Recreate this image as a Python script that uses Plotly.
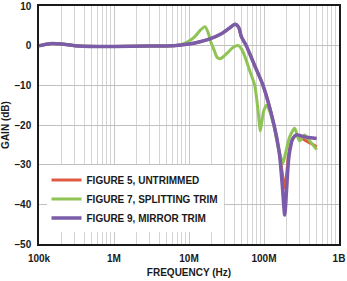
import plotly.graph_objects as go

# ---- data ----
freq_untrimmed = [1e5, 1.4e5, 2e5, 3e5, 6e5, 1e6, 3e6, 6e6, 8e6, 10e6, 14e6, 19e6, 27e6, 35e6,
                  41e6, 46e6, 50e6, 58e6, 75e6, 97e6, 136e6, 160e6, 175e6, 189e6, 199e6, 215e6,
                  241e6, 272e6, 300e6, 348e6, 420e6, 504e6]
gain_untrimmed = [0, 0.5, 0.4, 0, -0.2, -0.2, -0.1, 0, 0.2, 0.4, 1.0, 1.7, 3.0, 4.5,
                  5.4, 4.6, 2.2, 0, -5, -10, -20, -27, -32, -36, -33, -27,
                  -23.5, -22.5, -23, -23.8, -24.6, -25.5]

freq_splitting = [1e5, 1.4e5, 2e5, 3e5, 6e5, 1e6, 3e6, 6e6, 7.5e6, 9.2e6, 12e6, 14e6, 16.3e6,
                  18e6, 19.5e6, 21.5e6, 23.6e6, 26e6, 29e6, 33e6, 39e6, 46e6, 50e6, 55e6,
                  64.5e6, 75.2e6, 80e6, 85e6, 89e6, 93e6, 99e6, 108e6, 119e6, 135e6, 152e6,
                  167e6, 179e6, 194e6, 220e6, 256e6, 281e6, 299e6, 348e6, 406e6, 504e6]
gain_splitting = [0, 0.5, 0.4, 0, -0.2, -0.2, -0.1, 0, 0.2, 0.8, 2.3, 3.8, 4.8,
                  3.3, 1.0, -1.0, -2.9, -3.3, -2.7, -1.7, -0.4, 0, -0.8, -2.5,
                  -6.3, -10, -13.5, -18, -21.5, -19.5, -16.5, -15, -16.5, -20, -25,
                  -28, -29.6, -27, -23, -20.8, -23, -24, -22.5, -24, -26.2]

freq_mirror = [1e5, 1.4e5, 2e5, 3e5, 6e5, 1e6, 3e6, 6e6, 8e6, 10e6, 14e6, 19e6, 27e6, 35e6,
               41e6, 46e6, 50e6, 58e6, 75e6, 97e6, 136e6, 160e6, 175e6, 189e6, 199e6, 215e6,
               241e6, 272e6, 348e6, 420e6, 504e6]
gain_mirror = [0, 0.5, 0.4, 0, -0.2, -0.2, -0.1, 0, 0.2, 0.4, 1.0, 1.7, 3.0, 4.5,
               5.4, 4.6, 2.2, 0, -5, -10, -20, -27, -35, -42.7, -37, -28,
               -23.5, -22.5, -23, -23.2, -23.4]

series_names = ["FIGURE 5, UNTRIMMED", "FIGURE 7, SPLITTING TRIM", "FIGURE 9, MIRROR TRIM"]
series_colors = ["#e05a42", "#8fc455", "#7a5ca8"]

x_tick_vals = [1e5, 1e6, 1e7, 1e8, 1e9]
x_tick_text = ["100k", "1M", "10M", "100M", "1B"]
y_tick_vals = [10, 0, -10, -20, -30, -40, -50]
y_tick_text = ["10", "0", "–10", "–20", "–30", "–40", "–50"]

minor_x = [m * 10 ** e for e in range(5, 9) for m in range(2, 10)]

FONT = "Liberation Sans, Arial, sans-serif"

fig = go.Figure()
series = [(freq_untrimmed, gain_untrimmed), (freq_splitting, gain_splitting), (freq_mirror, gain_mirror)]
widths = [3, 3, 3.5]
for (f, g), name, col, w in zip(series, series_names, series_colors, widths):
    fig.add_trace(go.Scatter(x=f, y=g, mode="lines", name=name,
                             line=dict(color=col, width=w, shape="spline", smoothing=0.7)))

fig.update_layout(
    width=347, height=281,
    margin=dict(l=39, r=8, t=6, b=37),
    paper_bgcolor="white", plot_bgcolor="white",
    font=dict(family=FONT, size=10, color="#1a1a1a", weight="bold"),
    showlegend=True,
    legend=dict(x=0.025, y=0.33, xanchor="left", yanchor="top",
                bgcolor="white", borderwidth=0,
                font=dict(family=FONT, size=10, color="#1a1a1a", weight="bold"),
                tracegroupgap=0),
)
fig.update_xaxes(type="log", range=[5, 9], automargin=False,
                 tickvals=x_tick_vals, ticktext=x_tick_text, ticks="",
                 ticklabelstandoff=4,
                 showgrid=True, gridcolor="#c8c8c8", gridwidth=1,
                 minor=dict(tickvals=minor_x, showgrid=True, gridcolor="#d4d4d4", gridwidth=1, ticks=""),
                 showline=True, linecolor="#1a1a1a", linewidth=1.5, mirror=True,
                 zeroline=False,
                 tickfont=dict(family=FONT, size=10, color="#1a1a1a", weight="bold"),
                 title=dict(text="FREQUENCY (Hz)", standoff=6,
                            font=dict(family=FONT, size=10, color="#1a1a1a", weight="bold")))
fig.update_yaxes(range=[-50, 10], automargin=False,
                 tickvals=y_tick_vals, ticktext=y_tick_text, ticks="",
                 ticklabelstandoff=4,
                 showgrid=True, gridcolor="#c0c0c0", gridwidth=1,
                 showline=True, linecolor="#1a1a1a", linewidth=1.5, mirror=True,
                 zeroline=False,
                 tickfont=dict(family=FONT, size=10, color="#1a1a1a", weight="bold"),
                 title=dict(text="GAIN (dB)", standoff=4,
                            font=dict(family=FONT, size=10, color="#1a1a1a", weight="bold")))

fig.write_html("out.html")
